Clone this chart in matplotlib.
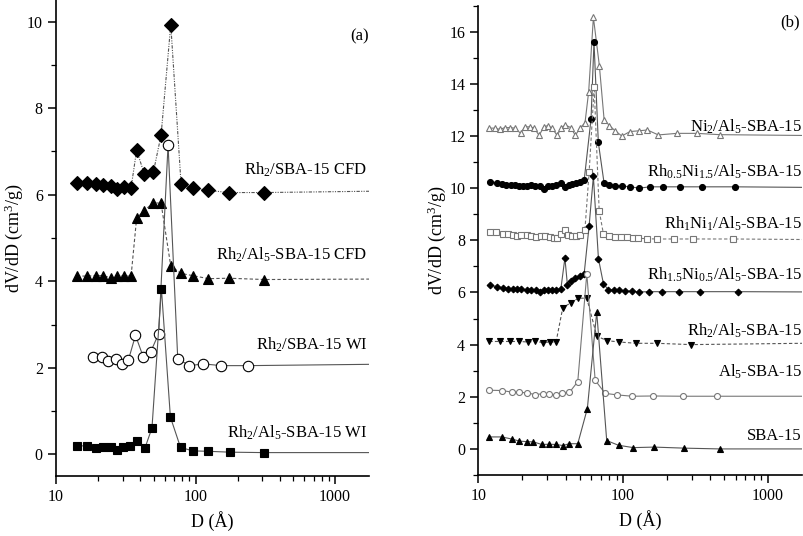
import matplotlib
matplotlib.use("Agg")
import matplotlib.pyplot as plt
from matplotlib.ticker import MultipleLocator, LogLocator, NullFormatter, FixedLocator

plt.rcParams["font.family"] = "Liberation Serif"
plt.rcParams["mathtext.fontset"] = "custom"
plt.rcParams["mathtext.rm"] = "Liberation Serif"
plt.rcParams["mathtext.it"] = "Liberation Serif:italic"

# ---- panel (a) data (last point = line tail to the axis edge) ----
a_cfd_d = [14.1, 16.7, 19.2, 21.8, 24.6, 27.2, 30.7, 34.5, 37.8, 42.8, 49.9, 56.6, 66.4, 78.7, 95.5, 123.6, 173, 311, 1750]
a_cfd_v = [6.28, 6.26, 6.24, 6.22, 6.19, 6.13, 6.17, 6.16, 7.03, 6.49, 6.53, 7.38, 9.93, 6.25, 6.16, 6.10, 6.05, 6.05, 6.08]
a_alcfd_d = [14.1, 16.7, 19.2, 21.8, 24.6, 27.2, 30.7, 34.5, 37.8, 42.8, 49.9, 56.6, 66.4, 78.7, 95.5, 123.6, 173, 311, 1750]
a_alcfd_v = [4.12, 4.12, 4.13, 4.13, 4.08, 4.12, 4.12, 4.12, 5.46, 5.63, 5.82, 5.80, 4.35, 4.18, 4.13, 4.06, 4.07, 4.04, 4.05]
a_wi_d = [18.5, 21.3, 23.7, 26.8, 29.6, 33.0, 37.1, 42.3, 47.7, 54.4, 63.5, 74.5, 90.3, 113.7, 153, 239, 1750]
a_wi_v = [2.24, 2.24, 2.16, 2.20, 2.08, 2.18, 2.75, 2.24, 2.37, 2.79, 7.15, 2.21, 2.05, 2.09, 2.05, 2.05, 2.08]
a_alwi_d = [14.1, 16.7, 19.2, 21.6, 24.6, 27.2, 30.4, 33.8, 37.9, 43.3, 48.7, 56.9, 66.0, 78.0, 95.5, 123.6, 176, 308, 1750]
a_alwi_v = [0.19, 0.20, 0.15, 0.16, 0.16, 0.10, 0.16, 0.20, 0.31, 0.14, 0.61, 3.83, 0.86, 0.16, 0.08, 0.07, 0.05, 0.04, 0.04]

# ---- panel (b) data ----
ni2_d = [11.9, 13.0, 14.1, 15.2, 16.5, 17.9, 19.6, 20.9, 22.7, 24.3, 26.3, 28.3, 30.3, 32.3, 35.0, 37.5, 39.9, 43.5,
         46.8, 50.2, 54.5, 57.8, 62.3, 68.5, 73.9, 80.4, 88.0, 97.9, 111.7, 129.7, 147, 175, 235, 323, 464, 1720]
ni2_v = [12.3, 12.3, 12.25, 12.32, 12.32, 12.3, 12.1, 12.35, 12.35, 12.3, 12.02, 12.35, 12.4, 12.3, 12.02, 12.32, 12.42,
         12.32, 12.02, 12.3, 12.5, 13.7, 16.55, 14.7, 12.62, 12.4, 12.2, 12.0, 12.17, 12.2, 12.23, 12.04, 12.1, 12.1, 12.05, 12.02]
rh05_d = [12.1, 13.5, 14.6, 15.6, 16.7, 17.8, 19.0, 20.4, 21.8, 23.2, 24.8, 26.6, 28.3, 30.3, 32.3, 34.6, 37.1, 39.5,
          42.1, 44.6, 47.6, 50.2, 53.8, 60.0, 62.9, 67.4, 73.9, 80.4, 88.0, 97.9, 111.7, 129.7, 153, 190, 248, 348, 591, 1720]
rh05_v = [10.25, 10.2, 10.17, 10.13, 10.12, 10.12, 10.1, 10.1, 10.1, 10.12, 10.1, 10.1, 9.98, 10.08, 10.1, 10.12, 10.18,
          10.05, 10.12, 10.15, 10.18, 10.22, 10.3, 12.65, 15.6, 11.75, 10.18, 10.12, 10.1, 10.08, 10.05, 10.0, 10.05, 10.05,
          10.05, 10.05, 10.05, 10.03]
rh1_d = [12.0, 13.3, 14.8, 16.1, 17.4, 18.6, 19.8, 21.5, 23.2, 25.2, 27.0, 28.8, 31.2, 33.4, 35.2, 37.1, 39.6, 41.7,
         44.6, 47.6, 50.2, 54.4, 58.2, 63.1, 68.3, 73.1, 80.4, 88.0, 96.4, 106.1, 116.8, 127.6, 145.9, 171, 223, 306, 578, 1720]
rh1_v = [8.3, 8.3, 8.25, 8.25, 8.22, 8.18, 8.2, 8.2, 8.18, 8.12, 8.15, 8.15, 8.12, 8.1, 8.08, 8.25, 8.4, 8.2, 8.15, 8.15,
         8.22, 8.38, 10.6, 13.87, 9.14, 8.24, 8.15, 8.12, 8.12, 8.12, 8.1, 8.08, 8.06, 8.05, 8.05, 8.05, 8.05, 8.03]
rh15_d = [12.0, 13.5, 14.8, 16.05, 17.4, 18.6, 19.8, 21.5, 23.2, 25.2, 26.6, 28.5, 30.3, 32.3, 34.6, 37.1, 39.6, 41.2,
          43.9, 46.8, 50.2, 53.8, 58.2, 62.3, 67.5, 73.1, 79.2, 86.6, 94, 103, 115, 128, 150, 185, 245, 340, 620, 1720]
rh15_v = [6.28, 6.22, 6.18, 6.15, 6.13, 6.12, 6.12, 6.1, 6.1, 6.08, 6.0, 6.08, 6.08, 6.08, 6.08, 6.12, 7.32, 6.3, 6.45,
          6.55, 6.62, 6.72, 8.55, 10.45, 7.3, 6.33, 6.1, 6.08, 6.08, 6.06, 6.05, 6.02, 6.03, 6.03, 6.03, 6.03, 6.03, 6.02]
rh2_d = [11.9, 14.0, 16.6, 19.2, 22.0, 24.7, 28.1, 31.3, 34.4, 38.3, 43.5, 49.1, 56.1, 65.8, 77.9, 93.9, 123, 171, 294, 1720]
rh2_v = [4.12, 4.12, 4.12, 4.12, 4.1, 4.12, 4.08, 4.1, 4.1, 5.42, 5.6, 5.78, 5.78, 4.32, 4.15, 4.1, 4.05, 4.05, 4.0, 4.05]
al5_d = [11.9, 14.5, 17.0, 19.1, 21.8, 24.65, 27.9, 30.9, 34.3, 38.1, 42.6, 48.6, 56.1, 64.1, 75.1, 91.3, 116, 160.5, 261, 448, 1720]
al5_v = [2.25, 2.24, 2.18, 2.17, 2.15, 2.08, 2.12, 2.1, 2.06, 2.15, 2.17, 2.58, 6.72, 2.63, 2.13, 2.07, 2.02, 2.03, 2.02, 2.02, 2.02]
sba_d = [11.9, 14.5, 17.0, 19.2, 21.6, 24.0, 27.4, 30.9, 34.2, 38.3, 42.5, 48.6, 56.6, 65.7, 77.0, 92.9, 117.6, 164, 264, 465, 1720]
sba_v = [0.46, 0.46, 0.38, 0.3, 0.28, 0.27, 0.17, 0.18, 0.17, 0.13, 0.2, 0.2, 1.55, 5.25, 0.32, 0.14, 0.05, 0.07, 0.03, 0.0, 0.0]

labels_a = ["Rh$_2$/SBA-15 CFD", "Rh$_2$/Al$_5$-SBA-15 CFD", "Rh$_2$/SBA-15 WI", "Rh$_2$/Al$_5$-SBA-15 WI"]
label_a_y = [6.57, 4.6, 2.52, 0.5]
labels_b = ["Ni$_2$/Al$_5$-SBA-15", r"Rh$_{\mathrm{0.5}}$Ni$_{\mathrm{1.5}}$/Al$_5$-SBA-15",
            "Rh$_1$Ni$_1$/Al$_5$-SBA-15", r"Rh$_{\mathrm{1.5}}$Ni$_{\mathrm{0.5}}$/Al$_5$-SBA-15",
            "Rh$_2$/Al$_5$-SBA-15", "Al$_5$-SBA-15", "SBA-15"]
label_b_y = [12.35, 10.64, 8.63, 6.68, 4.53, 2.94, 0.51]

LC = "#555555"
fig = plt.figure(figsize=(8.04, 5.36), dpi=100)
axa = fig.add_axes([0.0697, 0.112, 0.3893, 0.888])
axb = fig.add_axes([0.595, 0.1138, 0.4025, 0.8758])


def draw(ax, d, v, marker, ms, ls, mfc, mec, lc=LC):
    ax.plot(d, v, linestyle=ls, color=lc, lw=0.8, marker=marker, ms=ms,
            mfc=mfc, mec=mec, mew=0.8, markevery=slice(0, len(d) - 1))


# panel (a)
dashdotdot = (0, (3, 1.2, 1, 1.2, 1, 1.2))
draw(axa, a_cfd_d, a_cfd_v, "D", 7.2, dashdotdot, "black", "black")
draw(axa, a_alcfd_d, a_alcfd_v, "^", 7.5, (0, (3, 2)), "black", "black")
draw(axa, a_wi_d, a_wi_v, "o", 7.5, "-", "white", "black")
draw(axa, a_alwi_d, a_alwi_v, "s", 6.3, "-", "black", "black")

# panel (b)
G = "#777777"
draw(axb, ni2_d, ni2_v, "^", 4.8, "-", "white", G, lc=G)
draw(axb, rh05_d, rh05_v, "o", 4.3, "-", "black", "black")
draw(axb, rh1_d, rh1_v, "s", 4.0, (0, (3, 2)), "white", G, lc=G)
draw(axb, rh15_d, rh15_v, "D", 3.4, "-", "black", "black")
draw(axb, rh2_d, rh2_v, "v", 5.0, (0, (3, 2)), "black", "black")
draw(axb, al5_d, al5_v, "o", 4.3, "-", "white", G, lc=G)
draw(axb, sba_d, sba_v, "^", 5.0, "-", "black", "black")

for ax, xmax, ylim, ymaj in [(axa, 1750, (-0.5, 10.5), 2), (axb, 1720, (-1, 17), 2)]:
    ax.set_xscale("log")
    ax.set_xlim(10, xmax)
    ax.set_ylim(*ylim)
    ax.xaxis.set_major_locator(FixedLocator([10, 100, 1000]))
    ax.xaxis.set_major_formatter(plt.FuncFormatter(lambda x, p: "%d" % x))
    ax.xaxis.set_minor_locator(LogLocator(base=10, subs=range(2, 10)))
    ax.xaxis.set_minor_formatter(NullFormatter())
    ax.yaxis.set_major_locator(MultipleLocator(ymaj))
    ax.yaxis.set_minor_locator(MultipleLocator(1))
    ax.spines["top"].set_visible(False)
    ax.spines["right"].set_visible(False)
    for s in ["left", "bottom"]:
        ax.spines[s].set_linewidth(1.2)
    ax.tick_params(which="major", direction="out", length=6, width=1.1, labelsize=11.5)
    ax.tick_params(which="minor", direction="out", length=3.5, width=0.9)
    ax.set_xlabel("D (Å)", fontsize=13, labelpad=4)
    ax.set_ylabel("dV/dD (cm$^3$/g)", fontsize=13, labelpad=1)

trans_a = axa.get_yaxis_transform()
for t, y in zip(labels_a, label_a_y):
    axa.text(0.994, y, t, transform=trans_a, ha="right", va="center", fontsize=12)
axa.text(1.0, 9.65, "(a)", transform=trans_a, ha="right", va="center", fontsize=12)

trans_b = axb.get_yaxis_transform()
for t, y in zip(labels_b, label_b_y):
    axb.text(1.0, y, t, transform=trans_b, ha="right", va="center", fontsize=12)
axb.text(0.995, 16.35, "(b)", transform=trans_b, ha="right", va="center", fontsize=12)

fig.savefig("out.png", dpi=100)
